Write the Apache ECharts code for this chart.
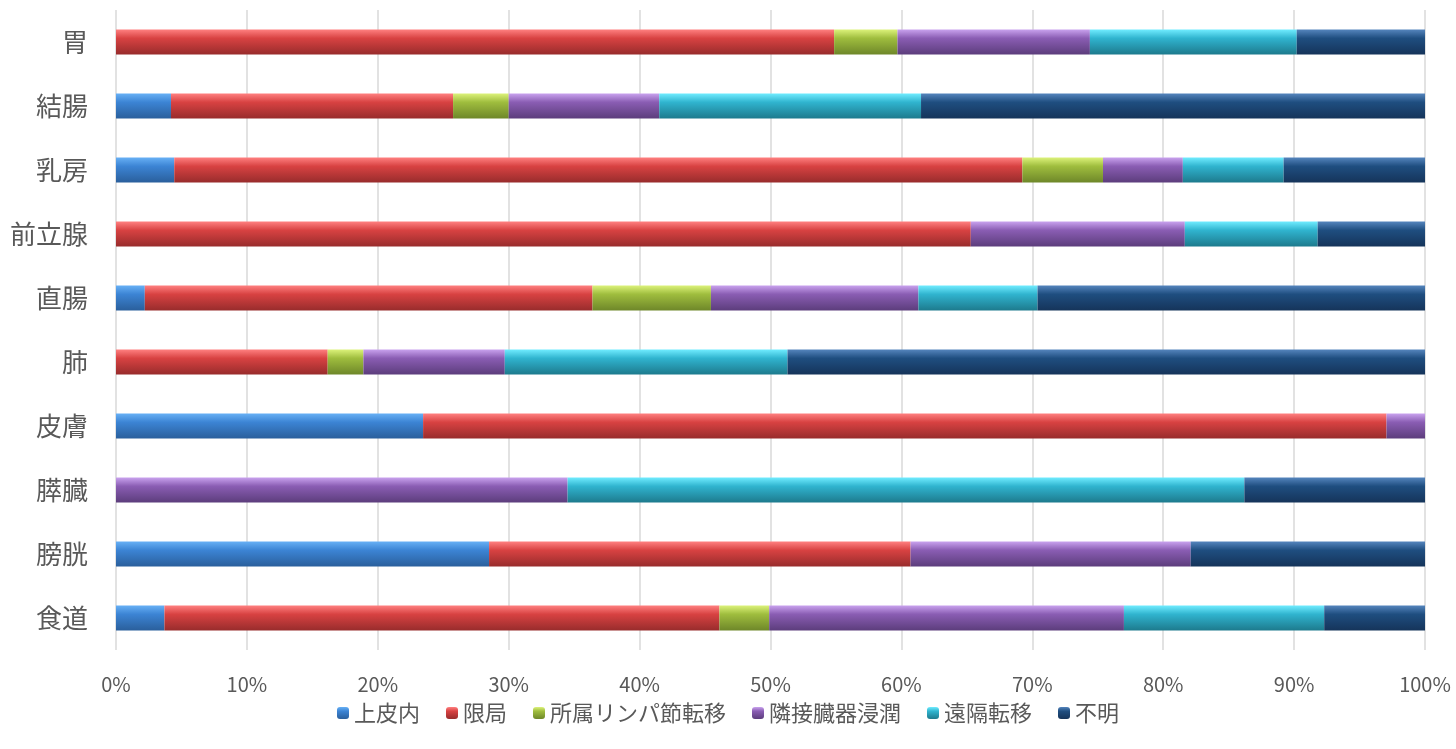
<!DOCTYPE html>
<html>
<head>
<meta charset="utf-8">
<script src="https://cdn.jsdelivr.net/npm/echarts@6/dist/echarts.min.js"></script>
<style>
  html, body { margin: 0; padding: 0; background: #fff; }
  #main { width: 1456px; height: 749px; }
</style>
</head>
<body>
<div id="main"></div>
<script>
// 部位 (上から順)
var sites = ['胃', '結腸', '乳房', '前立腺', '直腸', '肺', '皮膚', '膵臓', '膀胱', '食道'];
var stages = ['上皮内', '限局', '所属リンパ節転移', '隣接臓器浸潤', '遠隔転移', '不明'];

// 割合 (%)
var jouhinai = [0, 4.2, 4.45, 0, 2.2, 0, 23.46, 0, 28.5, 3.7];
var kyokusho = [54.86, 21.55, 64.79, 65.3, 34.2, 16.17, 73.6, 0, 32.2, 42.4];
var lymph = [4.84, 4.25, 6.16, 0, 9.05, 2.73, 0, 0, 0, 3.8];
var rinsetsu = [14.7, 11.5, 6.1, 16.35, 15.85, 10.8, 2.94, 34.5, 21.4, 27.1];
var enkaku = [15.8, 20.0, 7.7, 10.15, 9.1, 21.6, 0, 51.7, 0, 15.3];
var fumei = [9.8, 38.5, 10.8, 8.2, 29.6, 48.7, 0, 13.8, 17.9, 7.7];

var xTicks = [0, 10, 20, 30, 40, 50, 60, 70, 80, 90, 100];

var seriesData = [jouhinai, kyokusho, lymph, rinsetsu, enkaku, fumei];
// 上・中・下の色 (立体っぽく)
var shades = [
  ['#67b0f5', '#3c84d4', '#2a5f9c'],
  ['#ff8080', '#d84242', '#982c2c'],
  ['#dcf27a', '#9fbd3e', '#6e8729'],
  ['#c9a2ee', '#8a5db3', '#5c3d7c'],
  ['#70ecff', '#30b4cf', '#1d7a8d'],
  ['#5585bd', '#1f4e80', '#15345a']
];

function grad(c) {
  return new echarts.graphic.LinearGradient(0, 0, 0, 1, [
    { offset: 0, color: c[0] },
    { offset: 0.35, color: c[1] },
    { offset: 1, color: c[2] }
  ]);
}

var chart = echarts.init(document.getElementById('main'));

var series = [];
for (var i = 0; i < stages.length; i++) {
  series.push({
    name: stages[i],
    type: 'bar',
    stack: 'total',
    barWidth: 25,
    data: seriesData[i],
    itemStyle: {
      color: grad(shades[i]),
      shadowColor: 'rgba(0,0,0,0.35)',
      shadowOffsetY: 5,
      shadowBlur: 3
    }
  });
}

var option = {
  textStyle: { fontFamily: '"Noto Sans CJK JP", "Noto Sans", sans-serif' },
  grid: { left: 116, right: 31, top: 10, bottom: 99, containLabel: false },
  legend: {
    data: stages,
    bottom: 20,
    left: 'center',
    itemWidth: 12,
    itemHeight: 12,
    itemGap: 26,
    textStyle: { fontSize: 22, color: '#595959' }
  },
  xAxis: {
    type: 'value',
    min: 0,
    max: 100,
    interval: 10,
    axisLabel: {
      fontSize: 20,
      color: '#595959',
      margin: 24,
      formatter: function (v) { return xTicks.indexOf(v) >= 0 ? v + '%' : ''; }
    },
    axisLine: { show: false },
    axisTick: { show: false },
    splitLine: { show: true, lineStyle: { color: '#d9d9d9', width: 1.5 } }
  },
  yAxis: {
    type: 'category',
    inverse: true,
    data: sites,
    axisLabel: { fontSize: 26, color: '#595959', margin: 28 },
    axisLine: { show: false },
    axisTick: { show: false }
  },
  series: series
};

chart.setOption(option);
</script>
</body>
</html>
